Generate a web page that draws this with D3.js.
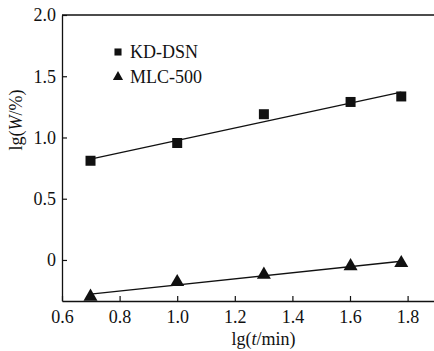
<!DOCTYPE html>
<html>
<head>
<meta charset="utf-8">
<script src="https://cdn.jsdelivr.net/npm/d3@7"></script>
<style>
  body { margin: 0; background: #fff; }
  svg text { font-family: "Liberation Serif", "Times New Roman", serif; fill: #111; }
</style>
</head>
<body>
<svg id="chart" width="434" height="351"></svg>
<script>
// lg(t/min) sample points
const lgT = [0.699, 1.0, 1.301, 1.602, 1.778];
const kdDsn = [0.81, 0.955, 1.19, 1.29, 1.335];
const mlc500 = [-0.30, -0.18, -0.12, -0.05, -0.025];
const xTicks = [0.6, 0.8, 1.0, 1.2, 1.4, 1.6, 1.8];
const yTicks = [0, 0.5, 1.0, 1.5, 2.0];
const seriesNames = ['KD-DSN', 'MLC-500'];

const svg = d3.select('#chart');
const margin = { top: 15, right: 0, bottom: 50, left: 62 };
const width = 434 - margin.left - margin.right;
const height = 351 - margin.top - margin.bottom;

const x = d3.scaleLinear().domain([0.6, 0.6 + width / 288]).range([0, width]);
const y = d3.scaleLinear().domain([-0.335, 2.0]).range([height, 0]);

const g = svg.append('g').attr('transform', `translate(${margin.left},${margin.top})`);

// least squares fit, drawn over the data range
function fit(xs, ys) {
    const mx = d3.mean(xs), my = d3.mean(ys);
    const slope = d3.sum(xs, (v, i) => (v - mx) * (ys[i] - my)) / d3.sum(xs, (v) => (v - mx) ** 2);
    return (v) => my + slope * (v - mx);
}

// axes with inward ticks
const xAxis = g.append('g')
    .attr('transform', `translate(0,${height})`)
    .call(d3.axisBottom(x).tickValues(xTicks).tickSizeInner(-5).tickSizeOuter(0)
        .tickPadding(9).tickFormat(d3.format('.1f')));
const yAxis = g.append('g')
    .call(d3.axisLeft(y).tickValues(yTicks).tickSizeInner(-5).tickSizeOuter(0)
        .tickPadding(6).tickFormat((d) => (d === 0 ? '0' : d3.format('.1f')(d))));
[xAxis, yAxis].forEach((a) => {
    a.selectAll('path').attr('stroke', '#111').attr('stroke-width', 1.3);
    a.selectAll('line').attr('stroke', '#111').attr('stroke-width', 1.2);
    a.selectAll('text').attr('font-size', 18).attr('fill', '#111');
});
// top frame line
g.append('line')
    .attr('x1', 0).attr('x2', width).attr('y1', 0).attr('y2', 0)
    .attr('stroke', '#111').attr('stroke-width', 1.3);

const line = d3.line().x((d) => x(d[0])).y((d) => y(d[1]));
[kdDsn, mlc500].forEach((ys) => {
    const f = fit(lgT, ys);
    const x0 = d3.min(lgT), x1 = d3.max(lgT);
    g.append('path')
        .datum([[x0, f(x0)], [x1, f(x1)]])
        .attr('d', line)
        .attr('fill', 'none')
        .attr('stroke', '#111')
        .attr('stroke-width', 1.4);
});

const sq = d3.symbol().type(d3.symbolSquare).size(100);
const tri = d3.symbol().type(d3.symbolTriangle).size(85);

g.selectAll('.kd')
    .data(lgT.map((v, i) => [v, kdDsn[i]]))
    .join('path')
    .attr('class', 'kd')
    .attr('d', sq)
    .attr('transform', (d) => `translate(${x(d[0])},${y(d[1])})`)
    .attr('fill', '#111');

g.selectAll('.mlc')
    .data(lgT.map((v, i) => [v, mlc500[i]]))
    .join('path')
    .attr('class', 'mlc')
    .attr('d', tri)
    .attr('transform', (d) => `translate(${x(d[0])},${y(d[1])})`)
    .attr('fill', '#111');

// legend
const legend = g.append('g').attr('transform', 'translate(56,37)');
const legendSymbols = [d3.symbol().type(d3.symbolSquare).size(50), d3.symbol().type(d3.symbolTriangle).size(45)];
seriesNames.forEach((name, i) => {
    const row = legend.append('g').attr('transform', `translate(0,${i * 25})`);
    row.append('path').attr('d', legendSymbols[i]).attr('fill', '#111');
    row.append('text')
        .attr('x', 12).attr('y', 0).attr('dy', '0.35em')
        .attr('font-size', 18)
        .text(name);
});

// axis titles
const xt = svg.append('text')
    .attr('x', margin.left + x(1.3)).attr('y', 345)
    .attr('text-anchor', 'middle').attr('font-size', 18);
xt.append('tspan').text('lg(');
xt.append('tspan').attr('font-style', 'italic').text('t');
xt.append('tspan').text('/min)');

const yt = svg.append('text')
    .attr('transform', 'translate(22,120) rotate(-90)')
    .attr('text-anchor', 'middle').attr('font-size', 18);
yt.append('tspan').text('lg(');
yt.append('tspan').attr('font-style', 'italic').text('W');
yt.append('tspan').text('/%)');
</script>
</body>
</html>
